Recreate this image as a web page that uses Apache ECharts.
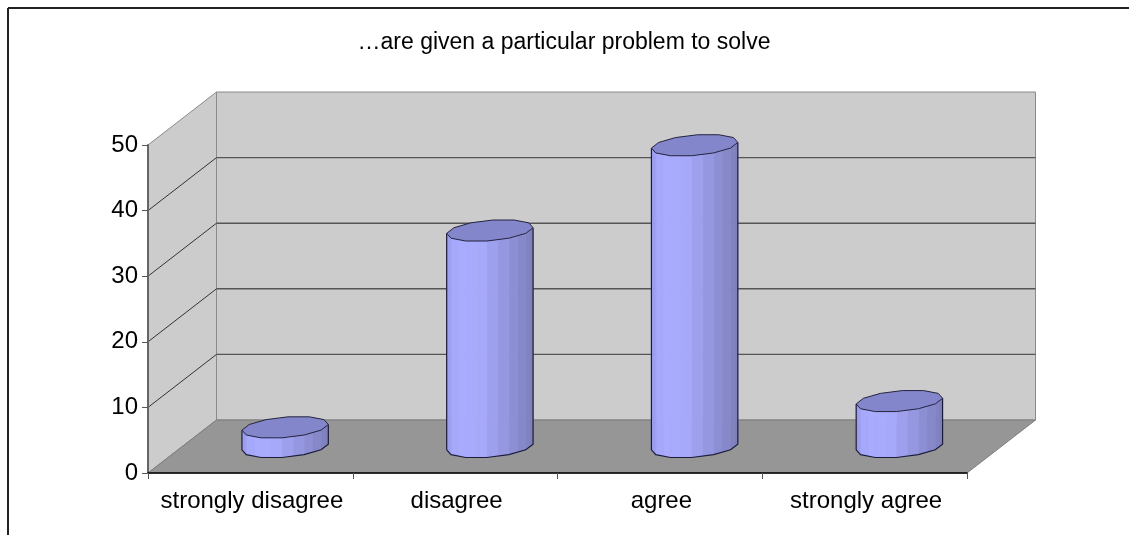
<!DOCTYPE html>
<html>
<head>
<meta charset="utf-8">
<style>html,body{margin:0;padding:0;background:#fff}#chart{width:1129px;height:535px}</style>
<script src="https://cdn.jsdelivr.net/npm/echarts@6/dist/echarts.min.js"></script>
</head>
<body>
<div id="chart"></div>
<script>
// Survey responses drawn as an oblique 3D cylinder chart.
const titleText = '…are given a particular problem to solve';
const categories = ['strongly disagree', 'disagree', 'agree', 'strongly agree'];
const responses = [3, 33, 46, 7];
const valueTicks = [0, 10, 20, 30, 40, 50];

// Oblique projection: how far the back wall sits from the front plane.
const DEPTH_X = 68.5;
const DEPTH_Y = -53;
const FONT = '"Liberation Sans", Arial, sans-serif';

function mix(a, b, t) {
  const c = a.map((v, i) => Math.round(v + (b[i] - v) * t));
  return 'rgb(' + c.join(',') + ')';
}

function lerpPoint(p, q, t) {
  return [p[0] + (q[0] - p[0]) * t, p[1] + (q[1] - p[1]) * t];
}

function poly(points, fill, stroke, lineWidth) {
  return {
    type: 'polygon',
    shape: { points },
    style: { fill, stroke: stroke || fill, lineWidth: lineWidth === undefined ? 1 : lineWidth }
  };
}

function line(x1, y1, x2, y2, stroke, lineWidth) {
  return { type: 'line', shape: { x1, y1, x2, y2 }, style: { stroke, lineWidth } };
}

// Back wall, side wall, floor and the gridlines that run across them.
function renderWalls(params, api) {
  const g = params.coordSys;
  const l = g.x, r = g.x + g.width, t = g.y, b = g.y + g.height;
  const edge = '#8a8a8a';
  const children = [
    poly([[l + DEPTH_X, t + DEPTH_Y], [r + DEPTH_X, t + DEPTH_Y], [r + DEPTH_X, b + DEPTH_Y], [l + DEPTH_X, b + DEPTH_Y]], '#cccccc', edge),
    poly([[l, t], [l + DEPTH_X, t + DEPTH_Y], [l + DEPTH_X, b + DEPTH_Y], [l, b]], '#cccccc', edge),
    poly([[l, b], [l + DEPTH_X, b + DEPTH_Y], [r + DEPTH_X, b + DEPTH_Y], [r, b]], '#969696', '#7d7d7d')
  ];
  valueTicks.forEach(v => {
    if (v === 0 || v === 50) return;
    const y = api.coord([0, v])[1];
    children.push(line(l, y, l + DEPTH_X, y + DEPTH_Y, '#333333', 1));
    children.push(line(l + DEPTH_X, y + DEPTH_Y, r + DEPTH_X, y + DEPTH_Y, '#555555', 1.4));
  });
  return { type: 'group', children };
}

// One twelve-sided cylinder standing halfway back on the floor.
function renderCylinder(params, api) {
  const idx = api.value(0);
  const base = api.coord([idx, 0]);
  const top = api.coord([idx, api.value(1)]);
  const band = api.size([1, 0])[0];
  const cx = base[0] + DEPTH_X / 2 + 0.5;
  const yBase = base[1] + DEPTH_Y / 2 + 0.5;
  const yTop = top[1] + DEPTH_Y / 2 + 0.5;
  const rx = band * 0.2;
  const dx = DEPTH_X * 0.205;
  const dy = -DEPTH_Y * 0.205;
  const sides = 12;
  const step = Math.PI * 2 / sides;
  const start = -step / 2;
  const at = (a, y) => [cx + rx * Math.cos(a) - dx * Math.sin(a), y + dy * Math.sin(a)];
  const halfWidth = Math.sqrt(rx * rx + dx * dx);

  const children = [];
  const frontCount = sides / 2;
  const lowEdge = [], highEdge = [];
  for (let i = 0; i <= frontCount; i++) {
    const a = start + i * step;
    lowEdge.push(at(a, yBase));
    highEdge.push(at(a, yTop));
  }
  // Each side is shaded in two strips for a smoother fall-off.
  for (let i = 0; i < frontCount; i++) {
    for (let s = 0; s < 2; s++) {
      const l0 = lerpPoint(lowEdge[i], lowEdge[i + 1], s / 2);
      const l1 = lerpPoint(lowEdge[i], lowEdge[i + 1], (s + 1) / 2);
      const h0 = lerpPoint(highEdge[i], highEdge[i + 1], s / 2);
      const h1 = lerpPoint(highEdge[i], highEdge[i + 1], (s + 1) / 2);
      const u = ((l0[0] + l1[0]) / 2 - (cx - halfWidth)) / (2 * halfWidth);
      const fill = u < 0.12
        ? mix([152, 156, 236], [170, 172, 255], u / 0.12)
        : u < 0.42
          ? mix([170, 172, 255], [166, 168, 250], (u - 0.12) / 0.3)
          : mix([166, 168, 250], [124, 126, 186], (u - 0.42) / 0.58);
      children.push(poly([l0, l1, h1, h0], fill, fill, 0.6));
    }
  }
  // Silhouette of the wall, then the lid on top of it.
  children.push({
    type: 'polyline',
    shape: { points: [highEdge[frontCount]].concat(lowEdge.slice().reverse(), [highEdge[0]]) },
    style: { stroke: '#1c1c38', lineWidth: 1.2, fill: null }
  });
  const lid = [];
  for (let i = 0; i < sides; i++) lid.push(at(start + i * step, yTop));
  children.push(poly(lid, '#8486cc', '#23233f', 1));
  return { type: 'group', children };
}

const chart = echarts.init(document.getElementById('chart'), null, { renderer: 'canvas' });
chart.setOption({
  animation: false,
  backgroundColor: '#ffffff',
  title: {
    text: titleText,
    left: 559,
    top: 26,
    textAlign: 'center',
    textStyle: { fontFamily: FONT, fontSize: 23, fontWeight: 'normal', color: '#000' }
  },
  grid: { left: 148, top: 145, width: 819, height: 328 },
  xAxis: {
    type: 'category',
    data: categories,
    z: 5,
    axisLine: { lineStyle: { color: '#000', width: 1.5 } },
    axisTick: { show: true, alignWithLabel: false, length: 6, lineStyle: { color: '#555', width: 1 } },
    axisLabel: { fontFamily: FONT, fontSize: 24, color: '#000', margin: 16, interval: 0, padding: [0, 0, 0, 3] },
    splitLine: { show: false }
  },
  yAxis: {
    type: 'value',
    min: 0,
    max: 50,
    interval: 10,
    z: 5,
    axisLine: { show: true, lineStyle: { color: '#666', width: 2 } },
    axisTick: { show: true, length: 6, lineStyle: { color: '#555', width: 1 } },
    axisLabel: { fontFamily: FONT, fontSize: 24, color: '#000', margin: 10, padding: [5, 0, 0, 0] },
    splitLine: { show: false }
  },
  graphic: [
    { type: 'line', shape: { x1: 8, y1: 8, x2: 1129, y2: 8 }, style: { stroke: '#222', lineWidth: 2 }, z: 10 },
    { type: 'line', shape: { x1: 8, y1: 8, x2: 8, y2: 535 }, style: { stroke: '#222', lineWidth: 2 }, z: 10 }
  ],
  series: [
    { type: 'custom', name: 'walls', z: 1, silent: true, renderItem: renderWalls, data: [[0, 0]] },
    {
      type: 'custom',
      name: 'responses',
      z: 3,
      renderItem: renderCylinder,
      encode: { x: 0, y: 1 },
      data: responses.map((v, i) => [i, v])
    }
  ]
});
</script>
</body>
</html>
